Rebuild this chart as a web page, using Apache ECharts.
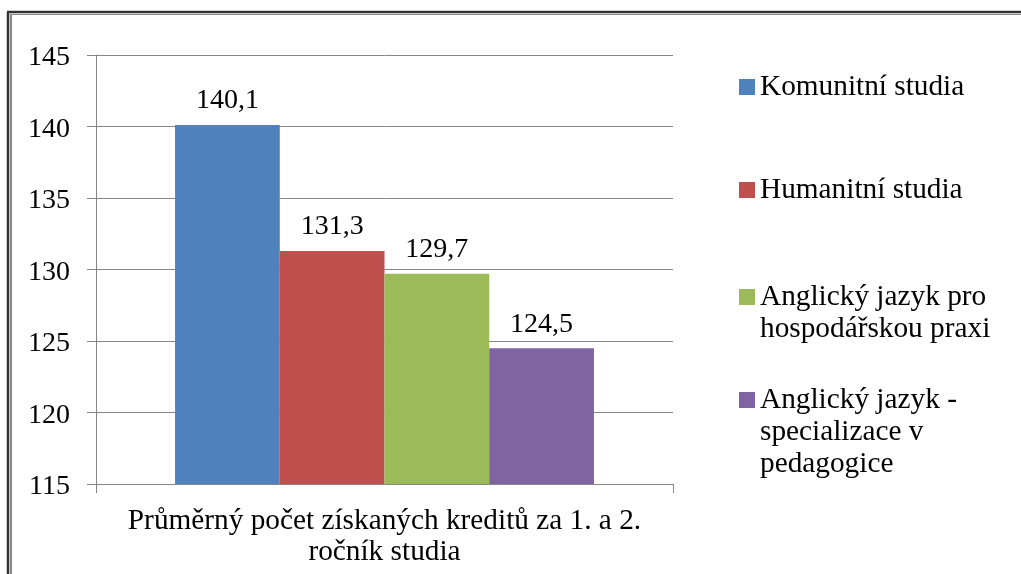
<!DOCTYPE html>
<html>
<head>
<meta charset="utf-8">
<script src="https://cdn.jsdelivr.net/npm/echarts@6/dist/echarts.min.js"></script>
<style>
html,body{margin:0;padding:0;background:#fff;}
#chart{width:1021px;height:574px;}
</style>
</head>
<body>
<div id="chart"></div>
<script>
const categories = ['Průměrný počet získaných kreditů za 1. a 2.\nročník studia'];
const seriesNames = [
  'Komunitní studia',
  'Humanitní studia',
  'Anglický jazyk pro\nhospodářskou praxi',
  'Anglický jazyk -\nspecializace v\npedagogice'
];
const seriesValues = [140.1, 131.3, 129.7, 124.5];
const seriesColors = ['#4F81BD', '#C0504D', '#9BBB59', '#8064A2'];
const yTicks = { min: 115, max: 145, interval: 5 };

const FONT = 'Liberation Serif';
const FS = 28;
const FS_TEXT = 29.3;
const LH = 32;
const legendCenters = [87, 190, 297, 400];

const chart = echarts.init(document.getElementById('chart'));

const series = seriesNames.map((name, i) => ({
  name: name,
  type: 'bar',
  data: [seriesValues[i]],
  barGap: '0%',
  barCategoryGap: '27.4%',
  itemStyle: { color: seriesColors[i] },
  label: {
    show: true,
    position: 'top',
    distance: 10,
    color: '#000',
    fontFamily: FONT,
    fontSize: FS,
    formatter: p => String(p.value).replace('.', ',')
  }
}));

const legends = seriesNames.map((name, i) => {
  const n = name.split('\n').length;
  return {
    show: true,
    orient: 'vertical',
    left: 739,
    top: legendCenters[i] - (2 * n - 1) * LH / 2,
    padding: 0,
    itemWidth: 16,
    itemHeight: 16,
    icon: 'rect',
    selectedMode: false,
    data: [name],
    formatter: nm => '\n'.repeat(n - 1) + nm,
    textStyle: {
      fontFamily: FONT,
      fontSize: FS_TEXT,
      lineHeight: LH,
      color: '#000'
    }
  };
});

const option = {
  animation: false,
  backgroundColor: '#fff',
  grid: { left: 96, right: 348, top: 55, bottom: 90, containLabel: false },
  legend: legends,
  xAxis: {
    type: 'category',
    data: categories,
    axisLine: { show: true, lineStyle: { color: '#868686', width: 1 } },
    axisTick: { show: true, length: 9, lineStyle: { color: '#868686' } },
    axisLabel: {
      margin: 22,
      color: '#000',
      fontFamily: FONT,
      fontSize: FS_TEXT,
      lineHeight: 31
    }
  },
  yAxis: {
    type: 'value',
    min: yTicks.min,
    max: yTicks.max,
    interval: yTicks.interval,
    axisLine: { show: true, lineStyle: { color: '#868686', width: 1 } },
    axisTick: { show: true, length: 9, lineStyle: { color: '#868686' } },
    splitLine: { show: true, lineStyle: { color: '#868686', width: 1 } },
    axisLabel: {
      margin: 26,
      color: '#000',
      fontFamily: FONT,
      fontSize: FS,
      verticalAlign: 'top',
      padding: [-11, 0, 0, 0]
    }
  },
  graphic: [
    { type: 'line', shape: { x1: 8, y1: 12, x2: 8, y2: 600 }, style: { stroke: '#333', lineWidth: 2.5 } },
    { type: 'line', shape: { x1: 7, y1: 12, x2: 1100, y2: 12 }, style: { stroke: '#333', lineWidth: 2.5 } },
    { type: 'line', shape: { x1: 11, y1: 14.5, x2: 11, y2: 600 }, style: { stroke: '#888', lineWidth: 2 } },
    { type: 'line', shape: { x1: 10, y1: 14.5, x2: 1100, y2: 14.5 }, style: { stroke: '#888', lineWidth: 1 } }
  ],
  series: series
};

chart.setOption(option);
</script>
</body>
</html>
